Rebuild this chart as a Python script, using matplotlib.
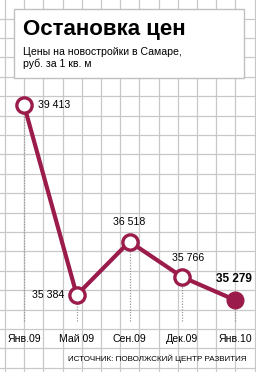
import matplotlib
matplotlib.use("Agg")
import matplotlib.pyplot as plt
from matplotlib.patches import Rectangle

# data
months = ["Янв.09", "Май 09", "Сен.09", "Дек.09", "Янв.10"]
prices = [39413, 35384, 36518, 35766, 35279]
labels = ["39 413", "35 384", "36 518", "35 766", "35 279"]

FONT = "Liberation Sans"
color = "#9b1b4b"
W, H = 256, 372
fig = plt.figure(figsize=(W / 100, H / 100), dpi=100)

# background grid (pixel coords)
bg = fig.add_axes([0, 0, 1, 1])
bg.set_xlim(0, W)
bg.set_ylim(H, 0)
bg.axis("off")
x = 5.0
while x < W:
    bg.axvline(x, color="#c8c8c8", lw=0.9, zorder=0)
    x += 19.2
y = 18.5
while y < H:
    bg.axhline(y, color="#c8c8c8", lw=0.9, zorder=0)
    y += 19.4

# title box
bg.add_patch(Rectangle((14, 8.5), 230, 69, facecolor="white", edgecolor="#c0c0c0", lw=1, zorder=2))
bg.text(23, 30, "Остановка цен", fontsize=16, fontweight="bold", family=FONT,
        va="center", ha="left", zorder=3)
bg.text(23, 52, "Цены на новостройки в Самаре,", fontsize=7.6, family=FONT,
        va="center", ha="left", zorder=3)
bg.text(23, 64, "руб. за 1 кв. м", fontsize=7.6, family=FONT,
        va="center", ha="left", zorder=3)

# data axes
ax = fig.add_axes([0, 0, 1, 1])
ax.patch.set_alpha(0)
ax.axis("off")
ax.set_xlim(-0.455, 4.398)
ax.set_ylim(33753, 41639)

pos = list(range(len(months)))
bottom = 35279 - 20.7 / 0.04717
for i, v in zip(pos, prices):
    ax.plot([i, i], [bottom, v], color="#9a9a9a", lw=0.9, ls=(0, (1, 1.2)), zorder=1)
ax.plot(pos, prices, color=color, lw=3, zorder=2)
ax.plot(pos[:-1], prices[:-1], "o", ms=11, mfc="white", mec=color, mew=2.4, zorder=3)
ax.plot(pos[-1], prices[-1], "o", ms=12, mfc=color, mec=color, zorder=3)

ax.annotate(labels[0], (0, prices[0]), xytext=(10, 0), textcoords="offset points",
            fontsize=7.6, family=FONT, va="center", ha="left")
ax.annotate(labels[1], (1, prices[1]), xytext=(-9, 0), textcoords="offset points",
            fontsize=7.6, family=FONT, va="center", ha="right")
ax.annotate(labels[2], (2, prices[2]), xytext=(0, 14), textcoords="offset points",
            fontsize=7.6, family=FONT, va="center", ha="center")
ax.annotate(labels[3], (3, prices[3]), xytext=(4, 14), textcoords="offset points",
            fontsize=7.6, family=FONT, va="center", ha="center")
ax.annotate(labels[4], (4, prices[4]), xytext=(12, 15), textcoords="offset points",
            fontsize=8.5, fontweight="bold", family=FONT, va="center", ha="right")

for i, m in zip(pos, months):
    ax.annotate(m, (i, bottom), xytext=(0, -13.5), textcoords="offset points",
                fontsize=7.6, family=FONT, va="center", ha="center")

bg.text(247, 359, "ИСТОЧНИК: ПОВОЛЖСКИЙ ЦЕНТР РАЗВИТИЯ", fontsize=5.8, family=FONT,
        va="center", ha="right", zorder=3)

fig.savefig("out.png", dpi=100)
